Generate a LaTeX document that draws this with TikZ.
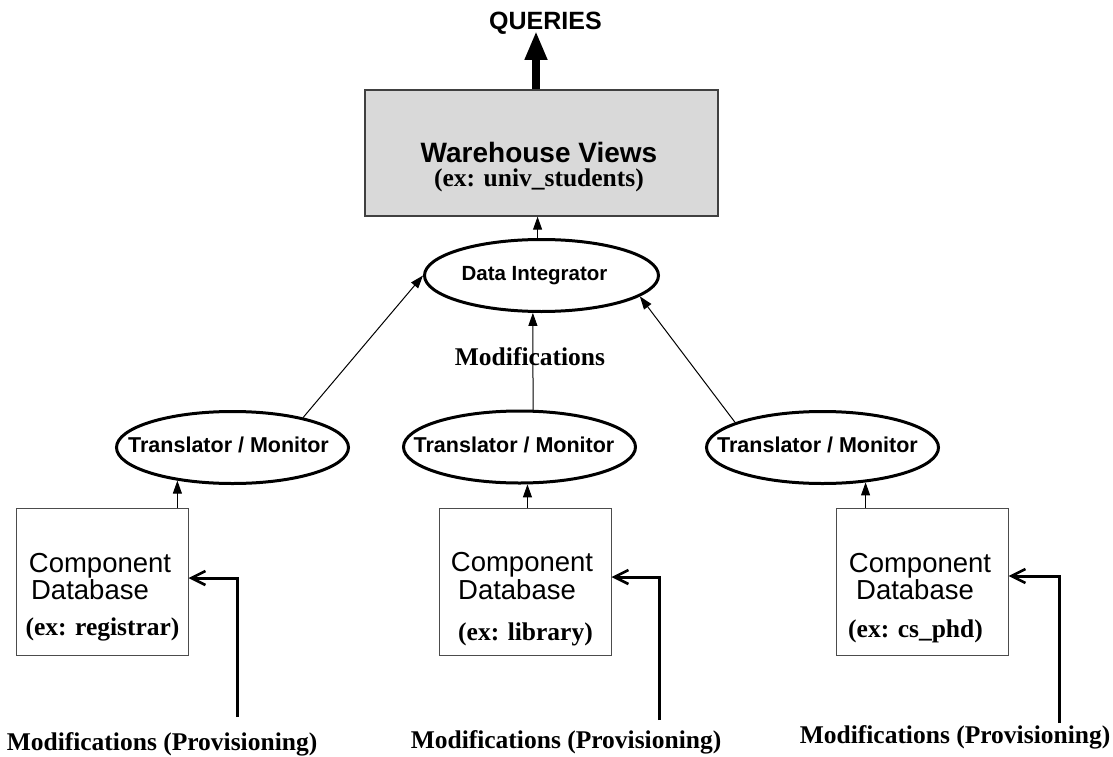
\documentclass[tikz,border=0pt]{standalone}
\usepackage{fontspec}
\setmainfont{Liberation Serif}
\setsansfont{Liberation Sans}
\usetikzlibrary{shapes.geometric,arrows.meta,calc}
\tikzset{
  ell/.style={ellipse, draw=black, line width=3pt, minimum width=232pt, minimum height=72pt, inner sep=0pt},
  dbbox/.style={rectangle, draw=black!70, line width=1pt, minimum width=172pt, minimum height=147pt, inner sep=0pt},
  whbox/.style={rectangle, draw=black!75, fill=black!15, line width=1.3pt, minimum width=353pt, minimum height=126pt, inner sep=0pt},
  conn/.style={line width=1pt, -{Triangle[length=13pt,width=9pt]}},
  prov/.style={line width=3pt, -{Straight Barb[length=14pt,width=14pt,line width=2.6pt]}},
  qarrow/.style={line width=8pt, -{Triangle[length=29pt,width=21pt]}},
  lbl/.style={anchor=base, inner sep=0pt},
  sansb/.style={lbl, font=\fontsize{21.5}{24}\selectfont\sffamily\bfseries},
  sansbig/.style={lbl, font=\fontsize{28}{30}\selectfont\sffamily\bfseries},
  sansq/.style={lbl, font=\fontsize{25}{28}\selectfont\sffamily\bfseries},
  sansr/.style={lbl, font=\fontsize{27.5}{30}\selectfont\sffamily},
  serifb/.style={lbl, font=\fontsize{25.5}{28}\selectfont\rmfamily\bfseries},
}
\begin{document}
\begin{tikzpicture}[x=1pt,y=-1pt]
\useasboundingbox (0,0) rectangle (1113,757);

% warehouse
\node[whbox] (wh) at (541.5,153) {};
\node[sansbig] (whA) at (539,162) {Warehouse Views};
\node[serifb] (whB) at (539,186) {(ex: univ\_students)};
\node[sansq] (q) at (545.5,30) {QUERIES};
\coordinate (qtip) at (536,31);
\draw[qarrow] (qtip |- wh.north) -- (qtip);

% data integrator
\node[ell, minimum width=234pt] (di) at (541.5,275.5) {};
\node[sansb, font=\fontsize{20.5}{24}\selectfont\sffamily\bfseries] (diT) at (534.5,280) {Data Integrator};
\draw[conn] (di.96.8) -- (di.96.8 |- wh.south);

% translators
\node[ell] (tm1) at (232.5,447.5) {};
\node[ell] (tm2) at (519.5,447) {};
\node[ell] (tm3) at (822.5,447.5) {};
\node[sansb] (tm1T) at (228.5,452) {Translator / Monitor};
\node[sansb] (tm2T) at (514,452) {Translator / Monitor};
\node[sansb] (tm3T) at (817.5,452) {Translator / Monitor};

\draw[conn] (tm1.23.7) -- (di.west);
\draw[conn] (tm2.70.1) -- (di.257.2);
\draw[conn] (tm3.164.4) -- (di.-12);
\node[serifb] (modm) at (530,365) {Modifications};

% component databases
\node[dbbox] (b1) at (102,581.5) {};
\node[dbbox] (b2) at (525,581.5) {};
\node[dbbox] (b3) at (922,581.5) {};

\node[sansr] (b1a) at (100,572) {Component};
\node[sansr] (b1b) at (90,599) {Database};
\node[serifb] (b1c) at (102.5,635) {(ex: registrar)};
\node[sansr] (b2a) at (522,571) {Component};
\node[sansr] (b2b) at (517,599) {Database};
\node[serifb] (b2c) at (525.5,640) {(ex: library)};
\node[sansr] (b3a) at (920,572) {Component};
\node[sansr] (b3b) at (915,599) {Database};
\node[serifb] (b3c) at (915.5,637) {(ex: cs\_phd)};

\draw[conn] (tm1.211.4 |- b1.north) -- (tm1.211.4);
\draw[conn] (tm2.282.8 |- b2.north) -- (tm2.282.8);
\draw[conn] (tm3.321.3 |- b3.north) -- (tm3.321.3);

% provisioning
\coordinate (p1) at (237,717);
\coordinate (p2) at (659,720);
\coordinate (p3) at (1059,723);
\draw[prov] (p1) |- ($(b1.east)+(0,-3.5)$);
\draw[prov] (p2) |- ($(b2.east)+(0,-4.5)$);
\draw[prov] (p3) |- ($(b3.east)+(0,-5.5)$);
\node[serifb] (m1) at (162,750) {Modifications (Provisioning)};
\node[serifb] (m2) at (566,748) {Modifications (Provisioning)};
\node[serifb] (m3) at (955,743) {Modifications (Provisioning)};
\end{tikzpicture}
\end{document}
